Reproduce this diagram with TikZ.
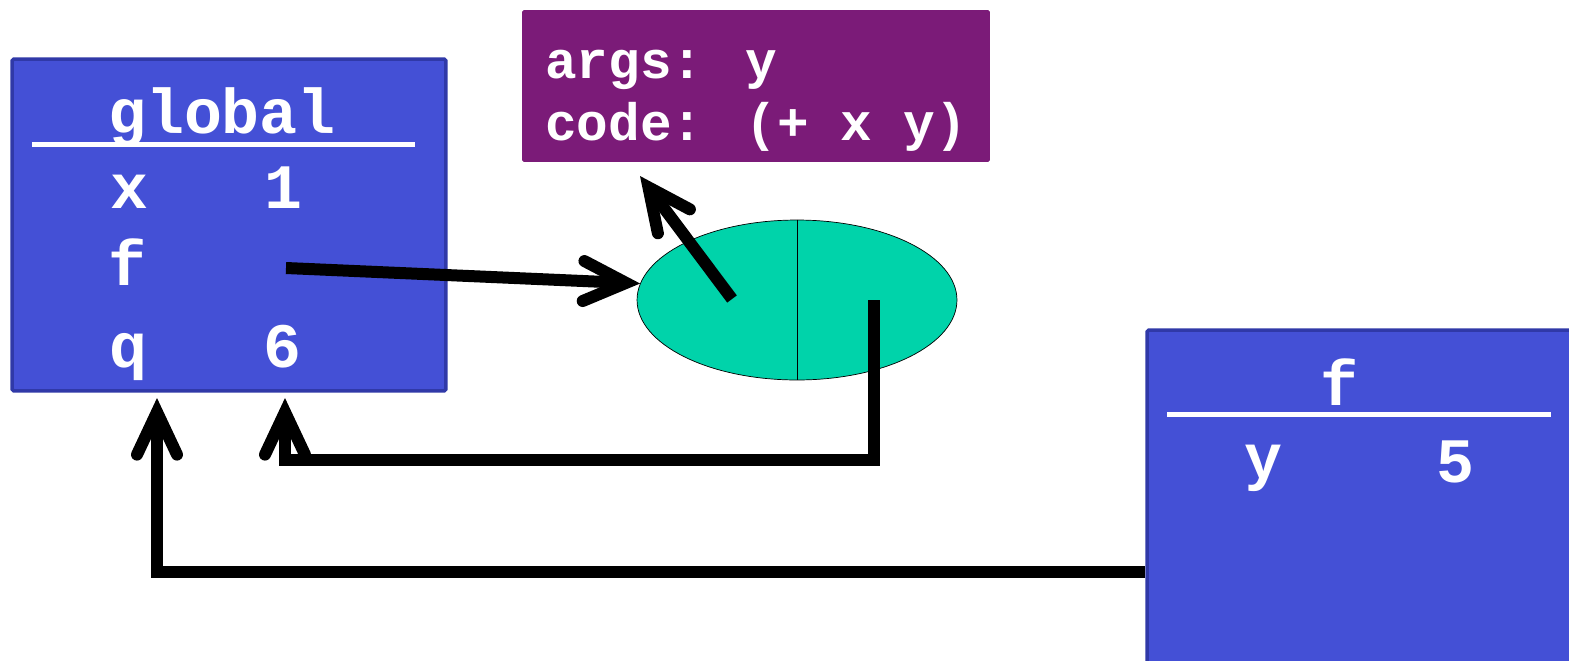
\documentclass[tikz,border=0pt]{standalone}
\usepackage{fontspec}
\newfontfamily\codefont{Liberation Mono}
\usetikzlibrary{positioning,calc,arrows.meta,shapes.geometric}

\definecolor{framefill}{HTML}{4450D6}
\definecolor{frameedge}{HTML}{3039A8}
\definecolor{closfill}{HTML}{7B1B78}
\definecolor{pairfill}{HTML}{00D3AA}

\begin{document}
\begin{tikzpicture}[x=0.02cm, y=-0.02cm,
  frame/.style={draw=frameedge, fill=framefill, line width=2pt, rounded corners=1pt, inner sep=0pt},
  big/.style={text=white, anchor=base, inner sep=0pt, font=\codefont\bfseries\fontsize{36}{40}\selectfont},
  small/.style={text=white, anchor=base west, inner sep=0pt, font=\codefont\bfseries\fontsize{30}{36}\selectfont},
  rule/.style={draw=white, line width=0.1cm},
  ptr/.style={line width=0.24cm, line join=miter, -{Straight Barb[length=0.85cm, width=0.8cm, line cap=round]}}]
  \useasboundingbox (0,0) rectangle (1569,660);
  \clip (0,0) rectangle (1569,660);

  % global frame
  \node[frame, minimum width=8.68cm, minimum height=6.64cm] (global) at (229,225) {};
  \node[big] (gname) at (222,133) {global};
  \draw[rule] (32,144) -- (415,144);
  \node[big] (gx) at (129,208) {x};
  \node[big] (gone) at (283,208) {1};
  \node[big] (gf) at (127,285) {f};
  \node[big] (gq) at (128,367) {q};
  \node[big] (gsix) at (282,367) {6};

  % closure
  \node[fill=closfill, rounded corners=1pt, minimum width=9.36cm, minimum height=3.04cm] (clos) at (756,86) {};
  \node[small] (args) at (545,78) {args: y};
  \node[small] (code) at (545,140) {code: (+ x y)};

  % pair
  \node[ellipse, draw, thin, fill=pairfill, minimum width=6.4cm, minimum height=3.2cm, inner sep=0pt] (pair) at (797,300) {};
  \draw[thin] (pair.north) -- (pair.south);

  % f frame
  \node[frame, minimum width=8.56cm, minimum height=6.8cm] (fframe) at (1361,500) {};
  \node[big] (fname) at (1339,405) {f};
  \draw[rule] (1167,414) -- (1551,414);
  \node[big] (fy) at (1263,478) {y};
  \node[big] (ffive) at (1455,482) {5};

  % pointers
  \coordinate (fval) at (286,268);
  \coordinate (codeptr) at (732,299);
  \coordinate (envptr) at (874,300);
  \coordinate (codetip) at (640,176);
  \coordinate (gtip) at (285,398);
  \coordinate (qtip) at (157,398);
  \draw[ptr] (fval) -- (pair.174);
  \draw[ptr] (codeptr) -- (codetip);
  \draw[ptr] (envptr) -- (envptr |- 0,460) -- (gtip |- 0,460) -- (gtip);
  \draw[ptr] (fframe.west |- 0,572) -- (qtip |- 0,572) -- (qtip);
\end{tikzpicture}
\end{document}
